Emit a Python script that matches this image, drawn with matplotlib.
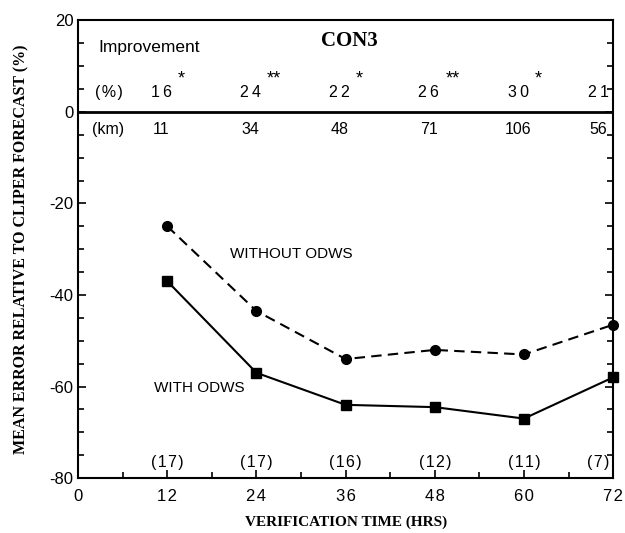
import numpy as np
import matplotlib.pyplot as plt
from matplotlib.ticker import MultipleLocator

# data
hours = [12, 24, 36, 48, 60, 72]
without_odws = [-25, -43.5, -54, -52, -53, -46.5]
with_odws = [-37, -57, -64, -64.5, -67, -58]
improve_pct = ['16', '24', '22', '26', '30', '21']
signif = ['*', '**', '*', '**', '*', '']
improve_km = ['11', '34', '48', '71', '106', '56']
n_cases = ['(17)', '(17)', '(16)', '(12)', '(11)', '(7)']

serif = ['Liberation Serif', 'DejaVu Serif']
sans = ['Liberation Sans', 'DejaVu Sans']
plt.rcParams['font.family'] = sans
plt.rcParams['axes.unicode_minus'] = False


def spaced(t, sp='\u200a'):
    return sp.join(t)


fig = plt.figure(figsize=(6.25, 5.33), dpi=100)
ax = fig.add_axes([0.125, 0.103, 0.856, 0.859])

ax.plot(hours, without_odws, 'k--', marker='o', ms=7, lw=1.5, dashes=(5, 3), clip_on=False)
ax.plot(hours, with_odws, 'k-', marker='s', ms=7, lw=1.5, clip_on=False)
ax.axhline(0, color='k', lw=2)

ax.set_xlim(0, 72)
ax.set_ylim(-80, 20)
ax.xaxis.set_major_locator(MultipleLocator(12))
ax.xaxis.set_minor_locator(MultipleLocator(6))
ax.yaxis.set_major_locator(MultipleLocator(20))
ax.yaxis.set_minor_locator(MultipleLocator(5))
ax.set_xticks(range(0, 73, 12))
ax.set_xticklabels([spaced(str(v)) for v in range(0, 73, 12)])
ax.tick_params(which='both', direction='in', left=True, right=True, top=False, labelsize=12, width=1.2)
ax.tick_params(which='major', length=6)
ax.tick_params(which='minor', length=4)
ax.tick_params(axis='x', pad=8)
for s in ax.spines.values():
    s.set_linewidth(1.5)

ax.set_xlabel('VERIFICATION TIME (HRS)', family=serif, fontweight='bold', fontsize=11, labelpad=8)
ax.set_ylabel('MEAN ERROR RELATIVE TO CLIPER FORECAST (%)', family=serif, fontweight='bold', fontsize=11.5, labelpad=14)

ax.text(36.5, 15.5, 'CON3', family=serif, fontweight='bold', fontsize=15, ha='center', va='center')
ax.text(2.7, 14, 'Improvement', fontsize=12.5, va='center')
ax.text(2.3, 4.2, spaced('(%)'), fontsize=11.5, va='center')
ax.text(1.9, -3.9, '(km)', fontsize=11.5, va='center')
for h, p, s, k, n in zip(hours, improve_pct, signif, improve_km, n_cases):
    dx = -2 if h == 72 else -0.8
    ax.text(h + dx, 4.2, spaced(p, '\u2009'), fontsize=11.5, va='center', ha='center')
    ax.text(h + dx + 2.2, 7.2, s, fontsize=13, va='center', ha='left')
    ax.text(h + dx, -3.9, k, fontsize=11.5, va='center', ha='center')
    ax.text(h + (dx if h == 72 else 0), -76.5, spaced(n), fontsize=11.5, va='center', ha='center')

ax.text(20.5, -31, 'WITHOUT ODWS', fontsize=11, va='center')
ax.text(10.2, -60.3, 'WITH ODWS', fontsize=11, va='center')

fig.savefig('out.png', dpi=100)
